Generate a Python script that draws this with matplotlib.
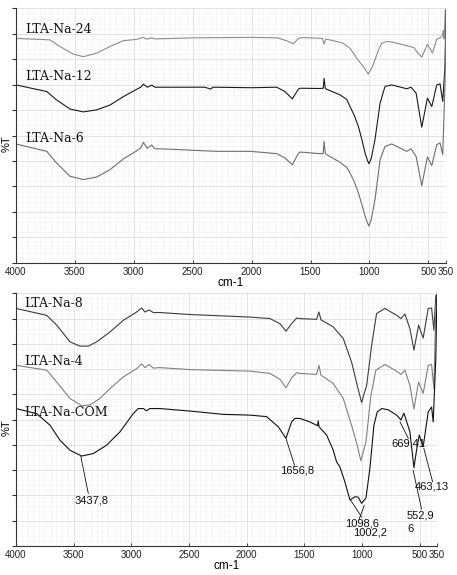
"""
FTIR spectra of LTA-Na samples: two stacked panels, %T against wavenumber.
Writes: out.png
"""
import matplotlib.pyplot as plt
from matplotlib.ticker import MultipleLocator, FixedLocator

# ---- top panel -----------------------------------------------------------
na24_wn = [4000, 3711, 3627, 3513, 3429, 3315, 3202, 3089, 2975, 2920, 2890, 2850,
           2820, 2500, 2000, 1780, 1700, 1645, 1600, 1560, 1400, 1385, 1370, 1307,
           1224, 1165, 1108, 1052, 1010, 981, 953, 924, 896, 859, 825, 768, 656,
           620, 599, 556, 508, 466, 429, 386, 372, 366, 356, 350]
na24_t = [88.2, 87.6, 85.0, 82.0, 81.0, 82.4, 85.0, 87.3, 87.8, 88.6, 87.9, 88.4,
          88.0, 88.4, 88.6, 88.4, 87.2, 86.1, 88.3, 88.5, 88.2, 86.0, 87.9, 87.3,
          86.3, 84.3, 80.4, 77.1, 74.2, 76.5, 79.7, 83.6, 86.3, 86.9, 86.9, 86.3, 85.0,
          84.5, 83.0, 80.8, 85.9, 82.4, 87.8, 88.8, 91.4, 88.0, 99.3, 99.5]

na12_wn = [4000, 3739, 3655, 3541, 3429, 3315, 3202, 3089, 2975, 2941, 2919, 2885,
           2848, 2820, 2778, 2400, 2345, 2330, 2000, 1787, 1717, 1655, 1604, 1589,
           1420, 1392, 1385, 1375, 1363, 1250, 1193, 1165, 1130, 1094, 1065, 1037,
           1015, 1004, 985, 953, 930, 910, 868, 811, 684, 647, 604, 556, 508, 471,
           429, 401, 378, 359, 350]
na12_t = [69.9, 67.3, 64.0, 60.4, 59.3, 60.1, 62.0, 65.3, 68.2, 69.0, 70.2, 69.0,
          69.8, 69.0, 69.0, 69.0, 68.3, 69.0, 68.8, 69.0, 67.3, 64.4, 68.2, 68.6,
          68.5, 68.6, 72.5, 68.6, 68.2, 66.0, 64.2, 61.4, 58.0, 53.6, 48.5, 43.1,
          40.0, 38.9, 41.0, 48.4, 56.0, 62.7, 69.3, 69.9, 68.4, 69.0, 66.7, 53.3,
          64.7, 61.4, 69.9, 70.3, 63.4, 77.1, 99.3]

na6_wn = [4000, 3739, 3655, 3541, 3429, 3315, 3202, 3089, 2975, 2941, 2919, 2885,
          2848, 2820, 2721, 2296, 2014, 1787, 1717, 1655, 1604, 1589, 1420, 1392,
          1385, 1375, 1363, 1250, 1193, 1165, 1130, 1094, 1065, 1037, 1015, 1004,
          985, 953, 930, 910, 868, 811, 684, 647, 604, 556, 508, 471, 429, 401, 378,
          359, 350]
na6_t = [46.7, 43.8, 39.2, 34.0, 32.7, 33.7, 36.6, 40.8, 44.0, 45.2, 47.3, 45.0,
         46.3, 44.8, 44.7, 43.8, 43.8, 42.9, 41.2, 38.5, 42.9, 43.5, 42.9, 43.0,
         47.7, 43.0, 42.5, 39.5, 37.5, 35.3, 32.0, 27.5, 23.0, 18.3, 15.5, 14.4,
         17.0, 24.8, 33.0, 40.5, 45.7, 46.7, 43.8, 44.8, 41.8, 30.3, 41.6, 38.2,
         46.4, 47.1, 42.5, 70.0, 99.0]

# ---- bottom panel --------------------------------------------------------
na8_wn = [4000, 3734, 3647, 3532, 3445, 3373, 3300, 3185, 3070, 2954, 2910, 2882,
          2844, 2810, 2752, 2491, 1971, 1798, 1711, 1659, 1610, 1566, 1538, 1393,
          1373, 1355, 1249, 1162, 1090, 1041, 1003, 959, 916, 873, 801, 699, 662,
          627, 584, 549, 509, 469, 425, 396, 376, 359, 350]
na8_t = [94.0, 91.3, 87.4, 80.8, 79.1, 79.1, 80.8, 84.7, 89.3, 92.6, 94.2, 92.6,
         93.4, 92.4, 92.4, 91.6, 90.6, 90.0, 88.0, 85.0, 88.0, 90.2, 90.0, 89.7,
         92.6, 89.5, 86.7, 82.1, 72.8, 63.6, 56.8, 63.6, 79.4, 92.0, 94.0, 91.3, 90.0,
         91.8, 86.0, 77.5, 87.4, 82.3, 94.0, 94.2, 85.4, 99.2, 99.5]

na4_wn = [4000, 3734, 3647, 3532, 3430, 3359, 3272, 3185, 3070, 2954, 2910, 2882,
          2844, 2810, 2752, 2491, 1971, 1798, 1711, 1659, 1610, 1566, 1538, 1393,
          1373, 1355, 1249, 1162, 1090, 1041, 1009, 965, 922, 879, 801, 699, 662,
          627, 584, 549, 509, 469, 425, 396, 376, 359, 350]
na4_t = [71.5, 69.6, 64.9, 58.4, 55.5, 55.8, 58.4, 62.3, 66.9, 70.2, 72.1, 70.6,
         71.8, 70.4, 70.6, 69.8, 69.2, 68.3, 66.0, 62.6, 66.5, 68.6, 68.3, 67.9,
         71.5, 67.6, 64.3, 58.4, 47.8, 39.9, 33.7, 41.2, 59.7, 69.6, 71.8, 69.2, 67.9,
         69.6, 63.6, 54.2, 64.9, 60.4, 71.5, 71.8, 62.3, 95.0, 99.0]

com_wn = [4000, 3821, 3705, 3619, 3532, 3430, 3330, 3214, 3098, 2983, 2940, 2896,
          2867, 2840, 2752, 2491, 2203, 1971, 1827, 1726, 1659, 1610, 1581, 1538,
          1451, 1385, 1379, 1372, 1306, 1249, 1220, 1191, 1148, 1104, 1061, 1032,
          1003, 965, 931, 896, 867, 829, 772, 699, 662, 636, 584, 549, 526, 503, 469,
          425, 396, 382, 359, 350]
com_t = [54.4, 52.4, 47.8, 41.9, 37.9, 35.6, 36.6, 39.9, 45.2, 52.4, 54.4, 54.4,
         53.5, 54.4, 54.4, 53.4, 52.1, 51.8, 51.2, 47.2, 42.6, 49.1, 50.5, 50.5,
         49.1, 47.6, 49.5, 47.2, 43.9, 37.9, 33.3, 31.3, 25.4, 18.2, 19.5, 19.3,
         16.9, 19.0, 30.7, 47.8, 53.1, 54.4, 53.9, 51.8, 49.9, 52.6, 45.2, 31.0, 38.0,
         43.9, 39.3, 53.1, 55.0, 49.1, 75.0, 99.0]

top_series = [("LTA-Na-24", na24_wn, na24_t, "#8c8c8c", 90.2),
              ("LTA-Na-12", na12_wn, na12_t, "#1a1a1a", 71.8),
              ("LTA-Na-6", na6_wn, na6_t, "#6e6e6e", 47.6)]
bottom_series = [("LTA-Na-8", na8_wn, na8_t, "#3c3c3c", 94.4),
                 ("LTA-Na-4", na4_wn, na4_t, "#808080", 71.7),
                 ("LTA-Na-COM", com_wn, com_t, "#111111", 51.6)]

# peak labels on LTA-Na-COM: text, text anchor (wn, T), leader (wn0, T0) -> (wn1, T1)
peak_labels = ["3437,8", "1656,8", "1098,6", "1002,2", "669,41", "463,13", "552,9", "6"]
peak_text_wn = [3488, 1711, 1148, 1078, 743, 541, 613, 610]
peak_text_t = [17.0, 28.5, 7.9, 4.3, 39.5, 22.5, 10.9, 5.5]
lead_wn0 = [3437.8, 1656.8, 1098.6, 980, 669.41, 463.13, 556]
lead_t0 = [35.4, 42.3, 18.2, 16.0, 49.1, 38.6, 30.0]
lead_wn1 = [3373, 1585, 1003, 1025, 598, 387, 483]
lead_t1 = [20.8, 32.0, 11.5, 10.5, 42.6, 25.4, 14.6]

x_ticks = [4000, 3500, 3000, 2500, 2000, 1500, 1000, 500, 350]

SANS = "Liberation Sans"
SERIF = "DejaVu Serif"


def style_axes(ax):
    ax.set_xlim(4000, 350)
    ax.set_ylim(0, 100)
    ax.xaxis.set_major_locator(FixedLocator(x_ticks))
    ax.set_xticklabels([str(t) for t in x_ticks], fontsize=7, family=SANS,
                       color="#222222")
    ax.xaxis.set_minor_locator(MultipleLocator(50))
    ax.yaxis.set_major_locator(MultipleLocator(10))
    ax.yaxis.set_minor_locator(MultipleLocator(2))
    ax.set_yticklabels([])
    ax.tick_params(axis="y", which="major", direction="out", length=3,
                   width=0.8, color="#333333")
    ax.tick_params(axis="x", which="major", direction="in", length=2.5,
                   width=0.6, color="#333333", pad=3)
    ax.tick_params(which="minor", length=0)
    ax.grid(which="major", color="#e2e2e2", linewidth=0.7)
    ax.grid(which="minor", color="#f3f3f3", linewidth=0.5)
    ax.set_axisbelow(True)
    for side in ("top", "right"):
        ax.spines[side].set_visible(False)
    for side in ("left", "bottom"):
        ax.spines[side].set_color("#333333")
        ax.spines[side].set_linewidth(0.8)
    ax.set_xlabel("cm-1", fontsize=8.5, family=SANS, labelpad=0)
    ax.set_ylabel("%T", fontsize=8, family=SANS)
    ax.yaxis.set_label_coords(-0.010, 0.47)


def draw_panel(ax, series):
    for name, wn, t, colour, label_t in series:
        ax.plot(wn, t, color=colour, linewidth=0.8)
        ax.text(3925, label_t, name, fontsize=9, family=SERIF,
                ha="left", va="baseline", color="#111111")
    style_axes(ax)


fig = plt.figure(figsize=(4.57, 5.75), dpi=100)
ax_top = fig.add_axes([0.035, 0.543, 0.941, 0.4425])
ax_bot = fig.add_axes([0.035, 0.0504, 0.921, 0.4395])

draw_panel(ax_top, top_series)
draw_panel(ax_bot, bottom_series)

for x0, y0, x1, y1 in zip(lead_wn0, lead_t0, lead_wn1, lead_t1):
    ax_bot.plot([x0, x1], [y0, y1], color="#111111", linewidth=0.6)
for label, x, y in zip(peak_labels, peak_text_wn, peak_text_t):
    ax_bot.text(x, y, label, fontsize=8, family=SANS, ha="left",
                va="baseline", color="#111111")

fig.savefig("out.png", dpi=100)
